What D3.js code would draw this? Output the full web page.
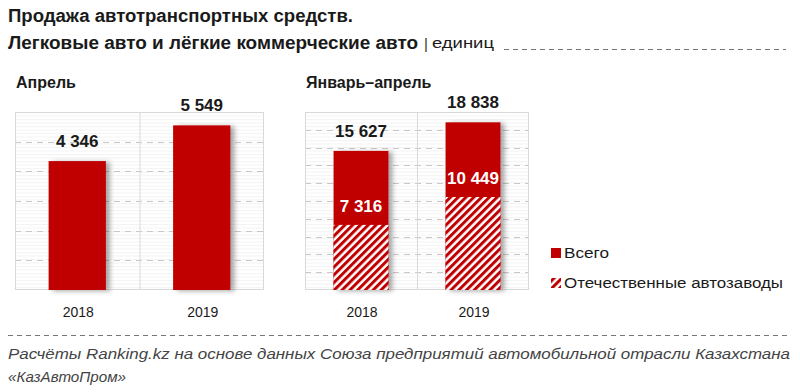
<!DOCTYPE html>
<html>
<head>
<meta charset="utf-8">
<script src="https://cdn.jsdelivr.net/npm/d3@7"></script>
<style>
  body { margin: 0; background: #fff; }
  svg { display: block; }
</style>
</head>
<body>
<div id="chart"></div>
<script>
const years = ["2018", "2019"];
const april_total = [4346, 5549];
const jan_apr_total = [15627, 18838];
const jan_apr_domestic = [7316, 10449];

const legend_labels = ["Всего", "Отечественные автозаводы"];
const title_lines = ["Продажа автотранспортных средств.", "Легковые авто и лёгкие коммерческие авто"];
const unit_label = "единиц";
const footer_lines = [
  "Расчёты Ranking.kz  на основе данных  Союза предприятий автомобильной отрасли Казахстана",
  "«КазАвтоПром»",
];

const width = 800, height = 392;
const red = "#c00000";
const font = "'Liberation Sans', Arial, sans-serif";
const fmt = (v) => d3.format(",")(v).replace(/,/g, " ");

const svg = d3.select("#chart").append("svg")
  .attr("width", width).attr("height", height)
  .style("font-family", font);

const defs = svg.append("defs");

// hatch for domestic production
const hatch = defs.append("pattern")
  .attr("id", "hatch")
  .attr("patternUnits", "userSpaceOnUse")
  .attr("width", 5.5).attr("height", 5.5)
  .attr("patternTransform", "rotate(45)");
hatch.append("rect").attr("width", 5.5).attr("height", 5.5).attr("fill", "#fff");
hatch.append("rect").attr("width", 3).attr("height", 5.5).attr("fill", red);

// faint horizontal lines in plot background
const bg = defs.append("pattern")
  .attr("id", "bgstripes")
  .attr("patternUnits", "userSpaceOnUse")
  .attr("width", 10).attr("height", 3.5);
bg.append("rect").attr("width", 10).attr("height", 3.5).attr("fill", "#fff");
bg.append("rect").attr("y", 0).attr("width", 10).attr("height", 1).attr("fill", "#f3f3f3");

const shadow = defs.append("filter").attr("id", "shadow")
  .attr("x", "-20%").attr("y", "-10%").attr("width", "150%").attr("height", "120%");
shadow.append("feGaussianBlur").attr("in", "SourceAlpha").attr("stdDeviation", 2.5);
shadow.append("feOffset").attr("dx", 4).attr("dy", 1).attr("result", "ob");
shadow.append("feComponentTransfer").append("feFuncA").attr("type", "linear").attr("slope", 0.35);
const merge = shadow.append("feMerge");
merge.append("feMergeNode");
merge.append("feMergeNode").attr("in", "SourceGraphic");

// ---- title ----
function fitText(sel, w) {
  sel.attr("textLength", w).attr("lengthAdjust", "spacingAndGlyphs");
}
svg.append("text").attr("x", 8).attr("y", 22)
  .attr("font-size", 18).attr("font-weight", "bold").attr("fill", "#1a1a1a")
  .text(title_lines[0]).call(fitText, 345);
svg.append("text").attr("x", 8).attr("y", 49)
  .attr("font-size", 18).attr("font-weight", "bold").attr("fill", "#1a1a1a")
  .text(title_lines[1]).call(fitText, 410);
svg.append("text").attr("x", 424).attr("y", 49)
  .attr("font-size", 15).attr("fill", "#333").text("|");
svg.append("text").attr("x", 432).attr("y", 48)
  .attr("font-size", 14).attr("fill", "#1a1a1a").text(unit_label).call(fitText, 62);
svg.append("line").attr("x1", 504).attr("x2", 786).attr("y1", 49.5).attr("y2", 49.5)
  .attr("stroke", "#777").attr("stroke-width", 1).attr("stroke-dasharray", "5,4");

// ---- panels ----
const plot_top = 112, plot_bottom = 290;

function drawPanel(cfg) {
  const g = svg.append("g");
  const x = d3.scaleBand().domain(years).range([cfg.x0, cfg.x1]).paddingInner(0).paddingOuter(0);
  const y = d3.scaleLinear().domain([0, cfg.max]).range([plot_bottom, plot_top]);

  g.append("text").attr("x", cfg.x0 + 1).attr("y", 88)
    .attr("font-size", 16).attr("font-weight", "bold").attr("fill", "#1a1a1a")
    .text(cfg.title);

  g.append("rect").attr("x", cfg.x0).attr("y", plot_top)
    .attr("width", cfg.x1 - cfg.x0).attr("height", plot_bottom - plot_top)
    .attr("fill", "url(#bgstripes)");

  // dashed gridlines
  g.selectAll(".grid").data(y.ticks(cfg.ticks).filter((d) => d > 0)).join("line")
    .attr("x1", cfg.x0).attr("x2", cfg.x1)
    .attr("y1", (d) => Math.round(y(d)) + 0.5).attr("y2", (d) => Math.round(y(d)) + 0.5)
    .attr("stroke", "#c8c8c8").attr("stroke-dasharray", "6,5");

  // frame + category divider
  g.append("rect").attr("x", cfg.x0 + 0.5).attr("y", plot_top + 0.5)
    .attr("width", cfg.x1 - cfg.x0 - 1).attr("height", plot_bottom - plot_top - 1)
    .attr("fill", "none").attr("stroke", "#d9d9d9");
  g.append("line").attr("x1", x("2019") + 0.5).attr("x2", x("2019") + 0.5)
    .attr("y1", plot_top).attr("y2", plot_bottom).attr("stroke", "#d9d9d9");

  const bw = x.bandwidth() * cfg.barFrac;
  const bx = (d) => x(d) + (x.bandwidth() - bw) / 2;

  g.selectAll(".bar").data(years).join("rect")
    .attr("x", bx).attr("width", bw)
    .attr("y", (d, i) => y(cfg.total[i]))
    .attr("height", (d, i) => plot_bottom - y(cfg.total[i]))
    .attr("fill", red).attr("filter", "url(#shadow)");

  if (cfg.domestic) {
    g.selectAll(".dom").data(years).join("rect")
      .attr("x", bx).attr("width", bw)
      .attr("y", (d, i) => y(cfg.domestic[i]))
      .attr("height", (d, i) => plot_bottom - y(cfg.domestic[i]))
      .attr("fill", "url(#hatch)");
    g.selectAll(".domlab").data(years).join("text")
      .attr("x", (d) => bx(d) + bw / 2)
      .attr("y", (d, i) => y(cfg.domestic[i]) - 13)
      .attr("text-anchor", "middle").attr("font-size", 17).attr("font-weight", "bold")
      .attr("fill", "#fff")
      .text((d, i) => fmt(cfg.domestic[i]));
  }

  g.selectAll(".totlab").data(years).join("text")
    .attr("x", (d) => bx(d) + bw / 2)
    .attr("y", (d, i) => y(cfg.total[i]) - 14)
    .attr("text-anchor", "middle").attr("font-size", 17).attr("font-weight", "bold")
    .attr("fill", "#1a1a1a")
    .text((d, i) => fmt(cfg.total[i]));

  g.selectAll(".cat").data(years).join("text")
    .attr("x", (d) => x(d) + x.bandwidth() / 2 + 1)
    .attr("y", 317)
    .attr("text-anchor", "middle").attr("font-size", 14).attr("fill", "#1a1a1a")
    .text((d) => d);
}

drawPanel({ title: "Апрель", x0: 15, x1: 264, max: 6000, ticks: 6, total: april_total, barFrac: 0.46 });
drawPanel({ title: "Январь–апрель", x0: 305, x1: 529, max: 20000, ticks: 10,
  total: jan_apr_total, domestic: jan_apr_domestic, barFrac: 0.49 });

// ---- legend ----
const legend_widths = [45, 219];
const legend = svg.append("g").attr("transform", "translate(551,248)");
legend.append("rect").attr("width", 10).attr("height", 10).attr("fill", red);
legend.append("rect").attr("y", 30).attr("width", 10).attr("height", 10).attr("fill", "url(#hatch)");
legend.selectAll("text").data(legend_labels).join("text")
  .attr("x", 13).attr("y", (d, i) => 10 + i * 30)
  .attr("font-size", 15.5).attr("fill", "#1a1a1a")
  .attr("textLength", (d, i) => legend_widths[i]).attr("lengthAdjust", "spacingAndGlyphs")
  .text((d) => d);

// ---- footer ----
svg.append("line").attr("x1", 8).attr("x2", 790).attr("y1", 335.5).attr("y2", 335.5)
  .attr("stroke", "#777").attr("stroke-dasharray", "5,4");
svg.append("text").attr("x", 8).attr("y", 359)
  .attr("font-size", 14).attr("font-style", "italic").attr("fill", "#444")
  .text(footer_lines[0]).call(fitText, 782);
svg.append("text").attr("x", 8).attr("y", 382)
  .attr("font-size", 14).attr("font-style", "italic").attr("fill", "#444")
  .text(footer_lines[1]).call(fitText, 118);
</script>
</body>
</html>
